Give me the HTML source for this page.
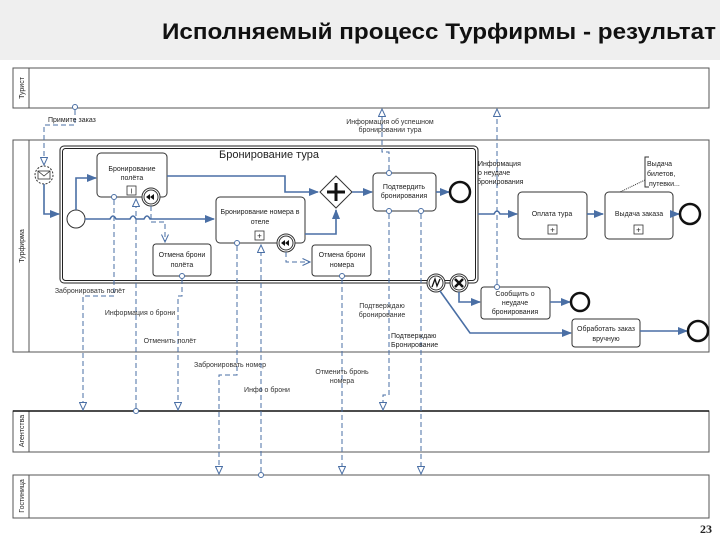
<!DOCTYPE html>
<html><head><meta charset="utf-8"><style>
body{margin:0;background:#fff}
svg{display:block}
text{font-family:"Liberation Sans",sans-serif;fill:#222}
.t{font-size:7px;text-anchor:middle}
.ml{font-size:7px;text-anchor:middle;fill:#333}
.sf{stroke:#4a6fa5;stroke-width:1.6;fill:none}
.mf{stroke:#4a6fa5;stroke-width:1;fill:none;stroke-dasharray:5 3}
.task{fill:#fff;stroke:#333;stroke-width:1}
.pool{fill:#fff;stroke:#555;stroke-width:1}
</style></head><body>
<svg width="720" height="540" viewBox="0 0 720 540" xmlns="http://www.w3.org/2000/svg">
<defs>
<marker id="a" markerWidth="10" markerHeight="8" refX="9" refY="4" orient="auto" markerUnits="userSpaceOnUse"><path d="M0,0 L10,4 L0,8 z" fill="#4a6fa5"/></marker>
<marker id="o" markerWidth="9" markerHeight="8" refX="8" refY="4" orient="auto" markerUnits="userSpaceOnUse"><path d="M0.5,0.5 L8,4 L0.5,7.5 z" fill="#fff" stroke="#4a6fa5"/></marker>
<marker id="v" markerWidth="9" markerHeight="8" refX="8" refY="4" orient="auto" markerUnits="userSpaceOnUse"><path d="M0.5,0.5 L8,4 L0.5,7.5" fill="none" stroke="#4a6fa5"/></marker>
</defs>
<rect x="0" y="0" width="720" height="60" fill="#efefef"/>
<text x="162" y="39" textLength="554" lengthAdjust="spacingAndGlyphs" style="font-size:22px;font-weight:bold;fill:#111">Исполняемый процесс Турфирмы - результат</text>

<!-- pools -->
<rect class="pool" x="13" y="68" width="696" height="40"/><line x1="29" y1="68" x2="29" y2="108" stroke="#555"/>
<text transform="translate(24,88) rotate(-90)" style="font-size:7px;text-anchor:middle">Турист</text>
<rect class="pool" x="13" y="140" width="696" height="212" stroke="#222"/><line x1="29" y1="140" x2="29" y2="352" stroke="#555"/>
<text transform="translate(24,246) rotate(-90)" style="font-size:7px;text-anchor:middle">Турфирма</text>
<rect class="pool" x="13" y="411" width="696" height="41"/><line x1="29" y1="411" x2="29" y2="452" stroke="#555"/>
<line x1="13" y1="411" x2="709" y2="411" stroke="#111" stroke-width="1.5"/>
<text transform="translate(24,431) rotate(-90)" style="font-size:7px;text-anchor:middle">Агентства</text>
<rect class="pool" x="13" y="475" width="696" height="43"/><line x1="29" y1="475" x2="29" y2="518" stroke="#555"/>
<text transform="translate(24,496) rotate(-90)" style="font-size:7px;text-anchor:middle">Гостиница</text>

<!-- subprocess -->
<rect x="60" y="146" width="418" height="137" rx="4" fill="none" stroke="#222" stroke-width="1"/>
<rect x="62.5" y="148.5" width="413" height="132" rx="3" fill="none" stroke="#222" stroke-width="1"/>
<text x="269" y="158" style="font-size:11px;text-anchor:middle">Бронирование тура</text>

<!-- message start -->
<circle cx="44" cy="175" r="9" fill="#fff" stroke="#333" stroke-dasharray="2 1.5"/>
<rect x="38" y="171" width="12" height="8" fill="#fff" stroke="#333" stroke-width="0.8"/><path d="M38,171 L44,176 L50,171" fill="none" stroke="#333" stroke-width="0.8"/>
<path class="sf" d="M44,184 V214 H59" marker-end="url(#a)"/>
<circle cx="76" cy="219" r="9" fill="#fff" stroke="#333"/>
<path class="sf" d="M76,210 V178 H96" marker-end="url(#a)"/>
<path class="sf" d="M85,219 H110 q3,-6 6,0 H130 q3,-6 6,0 H144 q3,-6 6,0 H214" marker-end="url(#a)"/>

<!-- task1 -->
<rect class="task" x="97" y="153" width="70" height="44" rx="4"/>
<text class="t" x="132" y="171">Бронирование</text><text class="t" x="132" y="180">полёта</text>
<rect x="127" y="186" width="9" height="9" fill="#fff" stroke="#333" stroke-width="0.8"/><text x="131.5" y="193.5" style="font-size:7px;text-anchor:middle">I</text>
<path class="sf" d="M167,176 H285 V192 H318" marker-end="url(#a)"/>
<circle cx="151" cy="197" r="9" fill="#fff" stroke="#333"/><circle cx="151" cy="197" r="7" fill="#fff" stroke="#333"/>
<path d="M146,197 L150,194 V200 Z M150,197 L154,194 V200 Z" fill="#111"/>
<path class="mf" d="M151,206 V222 H165 V242" marker-end="url(#v)"/>

<!-- gateway -->
<path d="M336,176 L352,192 L336,208 L320,192 Z" fill="#fff" stroke="#333"/>
<path d="M336,183 V201 M327,192 H345" stroke="#111" stroke-width="3"/>

<!-- task2 -->
<rect class="task" x="216" y="197" width="89" height="46" rx="4"/>
<text class="t" x="260" y="214">Бронирование номера в</text><text class="t" x="260" y="224">отеле</text>
<rect x="255" y="231" width="9" height="9" fill="#fff" stroke="#333" stroke-width="0.8"/><text x="259.5" y="238.5" style="font-size:8px;text-anchor:middle">+</text>
<path class="sf" d="M305,234 H336 V210" marker-end="url(#a)"/>
<circle cx="286" cy="243" r="9" fill="#fff" stroke="#333"/><circle cx="286" cy="243" r="7" fill="#fff" stroke="#333"/>
<path d="M281,243 L285,240 V246 Z M285,243 L289,240 V246 Z" fill="#111"/>
<path class="mf" d="M286,252 V262 H310" marker-end="url(#v)"/>

<!-- task3,4 -->
<rect class="task" x="153" y="244" width="58" height="32" rx="3"/>
<text class="t" x="182" y="257">Отмена брони</text><text class="t" x="182" y="267">полёта</text>
<rect class="task" x="312" y="245" width="59" height="31" rx="3"/>
<text class="t" x="342" y="257">Отмена брони</text><text class="t" x="342" y="267">номера</text>

<!-- confirm -->
<path class="sf" d="M352,192 H372" marker-end="url(#a)"/>
<rect class="task" x="373" y="173" width="63" height="38" rx="4"/>
<text class="t" x="404" y="189">Подтвердить</text><text class="t" x="404" y="198">бронирования</text>
<path class="sf" d="M436,192 H449" marker-end="url(#a)"/>
<circle cx="460" cy="192" r="10" fill="#fff" stroke="#111" stroke-width="2.5"/>

<!-- right side -->
<path class="sf" d="M478,214 H494 q3,-6 6,0 H517" marker-end="url(#a)"/>
<rect class="task" x="518" y="192" width="69" height="47" rx="4"/>
<text class="t" x="552" y="216">Оплата тура</text>
<rect x="548" y="225" width="9" height="9" fill="#fff" stroke="#333" stroke-width="0.8"/><text x="552.5" y="232.5" style="font-size:8px;text-anchor:middle">+</text>
<path class="sf" d="M587,214 H603" marker-end="url(#a)"/>
<rect class="task" x="605" y="192" width="68" height="47" rx="4"/>
<text class="t" x="639" y="216">Выдача заказа</text>
<rect x="634" y="225" width="9" height="9" fill="#fff" stroke="#333" stroke-width="0.8"/><text x="638.5" y="232.5" style="font-size:8px;text-anchor:middle">+</text>
<path class="sf" d="M673,214 H679" marker-end="url(#a)"/>
<circle cx="690" cy="214" r="10" fill="#fff" stroke="#111" stroke-width="2.5"/>
<path d="M649,157 H645 V187 H649" fill="none" stroke="#333"/>
<text x="647" y="166" style="font-size:7px">Выдача</text><text x="647" y="176" style="font-size:7px">билетов,</text><text x="649" y="186" style="font-size:7px">путевки...</text>
<line x1="645" y1="180" x2="620" y2="192" stroke="#333" stroke-dasharray="1 1"/>

<!-- boundary events on subprocess -->
<circle cx="436" cy="283" r="9" fill="#fff" stroke="#333"/><circle cx="436" cy="283" r="7" fill="#fff" stroke="#333"/>
<path d="M432,287 L435,279 L437,286 L440,279" fill="none" stroke="#111" stroke-width="1.3"/>
<circle cx="459" cy="283" r="9" fill="#fff" stroke="#333"/><circle cx="459" cy="283" r="7" fill="#fff" stroke="#333"/>
<path d="M455,279 L463,287 M463,279 L455,287" stroke="#111" stroke-width="2.5"/>
<path class="sf" d="M459,292 V302 H480" marker-end="url(#a)"/>
<rect class="task" x="481" y="287" width="69" height="32" rx="3"/>
<text class="t" x="515" y="296">Сообщить о</text><text class="t" x="515" y="305">неудаче</text><text class="t" x="515" y="314">бронирования</text>
<path class="sf" d="M550,302 H570" marker-end="url(#a)"/>
<circle cx="580" cy="302" r="9" fill="#fff" stroke="#111" stroke-width="2.5"/>
<path class="sf" d="M440,291 L470,333 H571" marker-end="url(#a)"/>
<rect class="task" x="572" y="319" width="68" height="28" rx="3"/>
<text class="t" x="606" y="331">Обработать заказ</text><text class="t" x="606" y="341">вручную</text>
<path class="sf" d="M640,331 H687" marker-end="url(#a)"/>
<circle cx="698" cy="331" r="10" fill="#fff" stroke="#111" stroke-width="2.5"/>

<!-- message flows -->
<g fill="#fff" stroke="#4a6fa5">
<circle cx="75" cy="107" r="2.5"/><circle cx="389" cy="173" r="2.5"/><circle cx="497" cy="287" r="2.5"/>
<circle cx="389" cy="211" r="2.5"/><circle cx="421" cy="211" r="2.5"/><circle cx="114" cy="197" r="2.5"/>
<circle cx="182" cy="276" r="2.5"/><circle cx="237" cy="243" r="2.5"/><circle cx="342" cy="276" r="2.5"/>
<circle cx="136" cy="411" r="2.5"/><circle cx="261" cy="475" r="2.5"/>
</g>
<path class="mf" d="M75,110 V125 H44 V165" marker-end="url(#o)"/>
<text x="48" y="122" style="font-size:7px">Примите заказ</text>
<path class="mf" d="M389,170 V152 H382 V109" marker-end="url(#o)"/>
<text class="ml" x="390" y="124">Информация об успешном</text><text class="ml" x="390" y="132">бронировании тура</text>
<path class="mf" d="M497,284 V109" marker-end="url(#o)"/>
<text x="478" y="166" style="font-size:7px">Информация</text><text x="478" y="175" style="font-size:7px">о неудаче</text><text x="477" y="184" style="font-size:7px">бронирования</text>
<path class="mf" d="M389,214 V395 H383 V410" marker-end="url(#o)"/>
<text class="ml" x="382" y="308">Подтверждаю</text><text class="ml" x="382" y="317">бронирование</text>
<path class="mf" d="M421,214 V474" marker-end="url(#o)"/>
<text x="391" y="338" style="font-size:7px">Подтверждаю</text><text x="391" y="347" style="font-size:7px">Бронирование</text>
<path class="mf" d="M114,200 V296 H83 V410" marker-end="url(#o)"/>
<text class="ml" x="90" y="293">Забронировать полёт</text>
<path class="mf" d="M136,408 V199" marker-end="url(#o)"/>
<text class="ml" x="140" y="315">Информация о брони</text>
<path class="mf" d="M182,279 V296 H178 V410" marker-end="url(#o)"/>
<text class="ml" x="170" y="343">Отменить полёт</text>
<path class="mf" d="M237,246 V375 H219 V474" marker-end="url(#o)"/>
<text class="ml" x="230" y="367">Забронировать номер</text>
<path class="mf" d="M261,472 V245" marker-end="url(#o)"/>
<text class="ml" x="267" y="392">Инфо о брони</text>
<path class="mf" d="M342,279 V474" marker-end="url(#o)"/>
<text class="ml" x="342" y="374">Отменить бронь</text><text class="ml" x="342" y="383">номера</text>

<text x="712" y="533" style="font-size:12px;font-weight:bold;text-anchor:end;font-family:'Liberation Serif',serif">23</text>
</svg>
</body></html>
